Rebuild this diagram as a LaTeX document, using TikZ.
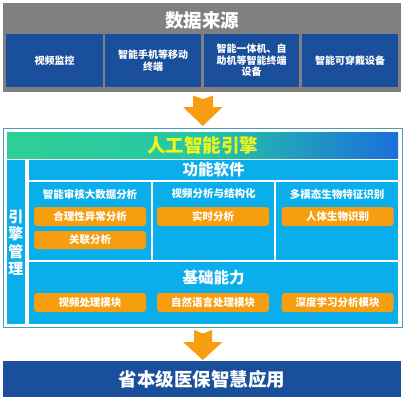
\documentclass[tikz,border=0pt]{standalone}
\usepackage{fontspec}
\setmainfont{Noto Sans CJK SC}
\usetikzlibrary{calc}
\definecolor{grayc}{HTML}{808080}
\definecolor{dblue}{HTML}{1A4F9B}
\definecolor{lblue}{HTML}{0AAEEA}
\definecolor{orangec}{HTML}{F69E0F}
\definecolor{yell}{HTML}{F0F51C}
\definecolor{gleft}{HTML}{2ECF97}
\definecolor{gmid}{HTML}{25C7A6}
\definecolor{gright}{HTML}{1B6FDB}
\definecolor{framec}{HTML}{4A9BC0}
\tikzset{
  box/.style={inner sep=0pt, outer sep=0pt, align=center, text=white, font=\bfseries},
  srccell/.style={box, fill=dblue, font=\fontsize{10}{11.5}\selectfont\bfseries},
  lbbox/.style={box, fill=lblue},
  obox/.style={box, fill=orangec, rounded corners=3pt, minimum width=112pt, minimum height=19pt, font=\fontsize{10.5}{12}\selectfont\bfseries},
  hdr/.style={text=white, inner sep=0pt, font=\fontsize{10.5}{12}\selectfont\bfseries},
  bigarrow/.style={fill=orangec, draw=none},
}
\begin{document}
\begin{tikzpicture}[x=1pt,y=-1pt]
\useasboundingbox (0,0) rectangle (405,400);
% data source
\node[box, fill=grayc, minimum width=398pt, minimum height=89pt] (src) at (202,47.5) {};
\node[text=white, inner sep=0pt, font=\fontsize{18.5}{20}\selectfont\bfseries] (srct) at (202,20.5) {数据来源};
\node[srccell, minimum width=97pt, minimum height=53pt] (s1) at (54.5,60.5) {视频监控};
\node[srccell, minimum width=96pt, minimum height=53pt] (s2) at (153,60.5) {智能手机等移动\\终端};
\node[srccell, minimum width=95pt, minimum height=53pt] (s3) at (251.5,60.5) {智能一体机、自\\助机等智能终端\\设备};
\node[srccell, minimum width=96pt, minimum height=53pt] (s4) at (350,60.5) {智能可穿戴设备};
% arrow 1
\draw[bigarrow] (193,95.5) -- (203,99) -- (213,95.5) -- (213,107) -- (222.5,107) -- (202.8,126) -- (183,107) -- (193,107) -- cycle;
% AI engine frame
\node[box, draw=framec, line width=1pt, fill=white, minimum width=399pt, minimum height=199pt] (ai) at (202.5,227.5) {};
\shade[left color=gleft, right color=gright, middle color=gmid] (7,132) rectangle (398,158.5);
\node[inner sep=0pt, text=yell, font=\fontsize{18.5}{20}\selectfont\bfseries] (ait) at (202.5,145) {人工智能引擎};
% left column
\node[lbbox, minimum width=18pt, minimum height=164pt] (mgmt) at (16,242) {};
\node[inner sep=0pt, text=white, align=center, font=\fontsize{15}{17.5}\selectfont\bfseries] (mgmtt) at (16,242.5) {引\\擎\\管\\理};
% function software
\node[lbbox, minimum width=369pt, minimum height=19.5pt, font=\fontsize{15.5}{17}\selectfont\bfseries] (fs) at (213.5,169.75) {功能软件};
\node[lbbox, minimum width=122pt, minimum height=77.5pt] (c1) at (90,220.75) {};
\node[lbbox, minimum width=121pt, minimum height=77.5pt] (c2) at (213.5,220.75) {};
\node[lbbox, minimum width=122pt, minimum height=77.5pt] (c3) at (337,220.75) {};
\node[hdr] (h1) at (90,194) {智能审核大数据分析};
\node[hdr] (h2) at (213.5,194) {视频分析与结构化};
\node[hdr] (h3) at (337,194) {多模态生物特征识别};
\node[obox] (o1) at (90,216.5) {合理性异常分析};
\node[obox, minimum height=18pt] (o2) at (90,240) {关联分析};
\node[obox] (o3) at (213,216.5) {实时分析};
\node[obox] (o4) at (337.5,216.5) {人体生物识别};
% basic capability
\node[lbbox, minimum width=369pt, minimum height=62pt] (bc) at (213.5,293) {};
\node[inner sep=0pt, text=white, font=\fontsize{15.5}{17}\selectfont\bfseries] (bct) at (213.5,278) {基础能力};
\node[obox] (b1) at (90,302.5) {视频处理模块};
\node[obox] (b2) at (213,302.5) {自然语言处理模块};
\node[obox] (b3) at (337.5,302.5) {深度学习分析模块};
% arrow 2
\draw[bigarrow] (194,330) -- (203,333.5) -- (212,330) -- (212,342) -- (222.5,342) -- (202.8,360) -- (183,342) -- (194,342) -- cycle;
% bottom
\node[box, fill=dblue, minimum width=398pt, minimum height=36pt, font=\fontsize{18.5}{20}\selectfont\bfseries] (app) at (202,379) {省本级医保智慧应用};
\end{tikzpicture}
\end{document}
